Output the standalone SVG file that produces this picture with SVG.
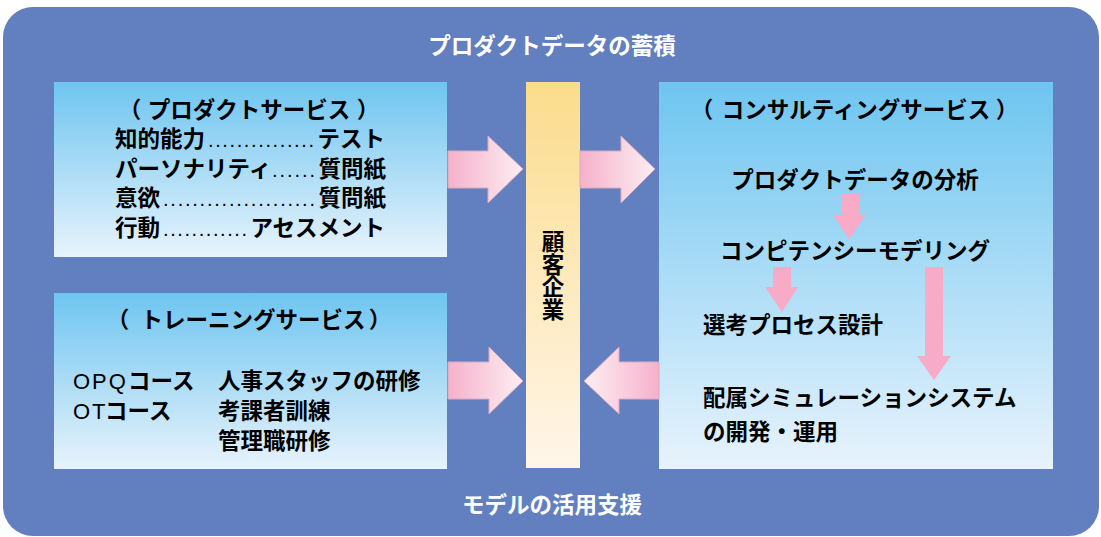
<svg xmlns="http://www.w3.org/2000/svg" width="1101" height="537" viewBox="0 0 1101 537">
<defs>
<linearGradient id="gBox" x1="0" y1="0" x2="0" y2="1">
<stop offset="0" stop-color="#6ec5f0"/>
<stop offset="1" stop-color="#e8f3fc"/>
</linearGradient>
<linearGradient id="gBar" x1="0" y1="0" x2="0" y2="1">
<stop offset="0" stop-color="#fbdc8c"/>
<stop offset="1" stop-color="#fff6ea"/>
</linearGradient>
<linearGradient id="gArrR" x1="0" y1="0" x2="1" y2="0">
<stop offset="0" stop-color="#f6b1ca"/>
<stop offset="1" stop-color="#fdeef3"/>
</linearGradient>
<linearGradient id="gArrL" x1="1" y1="0" x2="0" y2="0">
<stop offset="0" stop-color="#f6b1ca"/>
<stop offset="1" stop-color="#fdeef3"/>
</linearGradient>
</defs>
<style>
.jp{font-family:"Noto Sans CJK JP","Noto Sans",sans-serif;font-weight:bold;font-size:22.5px;fill:#000}
.wt{font-family:"Noto Sans CJK JP","Noto Sans",sans-serif;font-weight:bold;font-size:22.5px;fill:#fff}
.lat{font-family:"Liberation Sans",Arial,sans-serif;font-weight:normal;font-size:22px;letter-spacing:2px}
.dots{font-family:"Liberation Sans",Arial,sans-serif;font-weight:normal;font-size:20px;fill:#000}
.box{fill:url(#gBox)}
.big{stroke:#d8aac4;stroke-width:1}
.small{fill:#f7abc6}
</style>
<rect id="bg" x="3" y="7" width="1096" height="529" rx="30" ry="30" fill="#6280bf"/>
<text class="wt" x="552" y="54" text-anchor="middle">プロダクトデータの蓄積</text>
<text class="wt" x="552" y="513" text-anchor="middle">モデルの活用支援</text>

<g id="product">
<rect class="box" x="54" y="82" width="393" height="175"/>
<text class="jp" y="118" text-anchor="middle"><tspan x="130">（</tspan><tspan x="249">プロダクトサービス</tspan><tspan x="368">）</tspan></text>
<text class="jp" x="115" y="147">知的能力</text>
<text class="dots" x="208" y="147" textLength="106" lengthAdjust="spacing">...............</text>
<text class="jp" x="385" y="147" text-anchor="end">テスト</text>
<text class="jp" x="115" y="177">パーソナリティ</text>
<text class="dots" x="272" y="177" textLength="43" lengthAdjust="spacing">......</text>
<text class="jp" x="386" y="177" text-anchor="end">質問紙</text>
<text class="jp" x="115" y="206">意欲</text>
<text class="dots" x="163" y="206" textLength="152" lengthAdjust="spacing">.....................</text>
<text class="jp" x="386" y="206" text-anchor="end">質問紙</text>
<text class="jp" x="115" y="236">行動</text>
<text class="dots" x="163" y="236" textLength="84" lengthAdjust="spacing">............</text>
<text class="jp" x="385" y="236" text-anchor="end">アセスメント</text>
</g>

<g id="training">
<rect class="box" x="54" y="293" width="393" height="176"/>
<text class="jp" y="328" text-anchor="middle"><tspan x="118">（</tspan><tspan x="253">トレーニングサービス</tspan><tspan x="380">）</tspan></text>
<text class="jp" x="73" y="389"><tspan class="lat">OPQ</tspan><tspan x="128">コース</tspan></text>
<text class="jp" x="73" y="419"><tspan class="lat">OT</tspan><tspan x="105">コース</tspan></text>
<text class="jp" x="218" y="389">人事スタッフの研修</text>
<text class="jp" x="218" y="419">考課者訓練</text>
<text class="jp" x="218" y="449">管理職研修</text>
</g>

<g id="customer">
<rect x="526" y="82" width="54" height="386" fill="url(#gBar)"/>
<text class="jp" text-anchor="middle"><tspan x="553" y="250">顧</tspan><tspan x="553" y="272.5">客</tspan><tspan x="553" y="295">企</tspan><tspan x="553" y="317.5">業</tspan></text>
</g>

<g id="consulting">
<rect class="box" x="659" y="82" width="394" height="387"/>
<text class="jp" y="118" text-anchor="middle"><tspan x="702">（</tspan><tspan x="856">コンサルティングサービス</tspan><tspan x="1007">）</tspan></text>
<text class="jp" x="855" y="188" text-anchor="middle">プロダクトデータの分析</text>
<text class="jp" x="855" y="259" text-anchor="middle">コンピテンシーモデリング</text>
<text class="jp" x="703" y="333">選考プロセス設計</text>
<text class="jp" x="703" y="406">配属シミュレーションシステム</text>
<text class="jp" x="703" y="440">の開発・運用</text>
</g>

<g id="connectors">
<polygon class="big" fill="url(#gArrR)" points="448,151 488,151 488,136 523,169 488,203 488,188 448,188"/>
<polygon class="big" fill="url(#gArrR)" points="580,151 621,151 621,136 655,169 621,203 621,188 580,188"/>
<polygon class="big" fill="url(#gArrR)" points="448,362 489,362 489,347 523,381 489,414 489,399 448,399"/>
<polygon class="big" fill="url(#gArrL)" points="659,362 619,362 619,347 584,381 619,414 619,399 659,399"/>
<polygon class="small" points="841,194 859,194 859,215 866,215 849,239 833,215 841,215"/>
<polygon class="small" points="773,267 791,267 791,287 798,287 782,312 765,287 773,287"/>
<polygon class="small" points="925,267 943,267 943,356 951,356 934,380 917,356 925,356"/>
</g>
</svg>
